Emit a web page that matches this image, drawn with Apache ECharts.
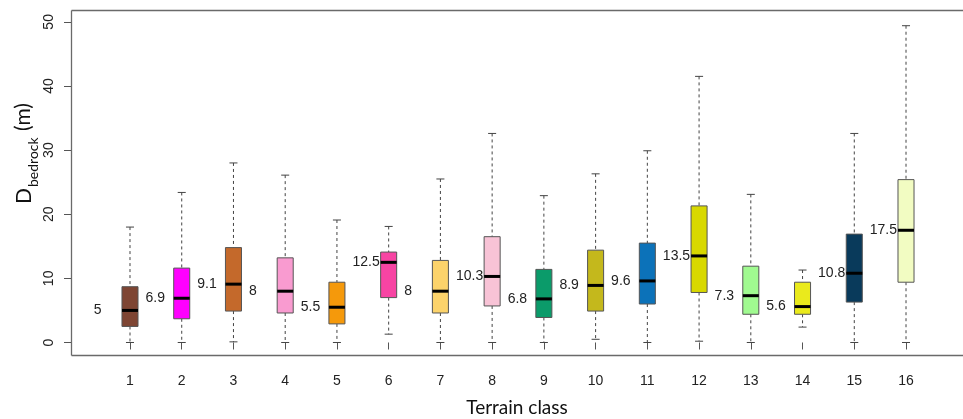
<!DOCTYPE html>
<html>
<head>
<meta charset="utf-8">
<script src="https://cdn.jsdelivr.net/npm/echarts@6/dist/echarts.min.js"></script>
<style>
html,body{margin:0;padding:0;background:#fff;overflow:hidden;}
#chart{width:963px;height:419px;}
</style>
</head>
<body>
<div id="chart"></div>
<script>
// ---- data ----
const classes = ['1','2','3','4','5','6','7','8','9','10','11','12','13','14','15','16'];
const whiskerLow  = [0, 0, 0.1, 0, 0, 1.3, 0, 0, 0, 0.5, 0, 0.2, 0, 2.4, 0, 0];
const q1          = [2.5, 3.7, 4.9, 4.6, 2.9, 7.0, 4.6, 5.7, 3.9, 4.9, 6.0, 7.8, 4.4, 4.4, 6.3, 9.4];
const medians     = [5, 6.9, 9.1, 8, 5.5, 12.5, 8, 10.3, 6.8, 8.9, 9.6, 13.5, 7.3, 5.6, 10.8, 17.5];
const q3          = [8.7, 11.6, 14.8, 13.2, 9.4, 14.1, 12.8, 16.5, 11.4, 14.4, 15.5, 21.3, 11.9, 9.4, 16.9, 25.4];
const whiskerHigh = [18.0, 23.4, 28.0, 26.1, 19.1, 18.1, 25.5, 32.6, 22.9, 26.3, 29.9, 41.5, 23.1, 11.3, 32.6, 49.4];
const medianLabels = ['5','6.9','9.1','8','5.5','12.5','8','10.3','6.8','8.9','9.6','13.5','7.3','5.6','10.8','17.5'];
const yTicks = [0, 10, 20, 30, 40, 50];
const boxColors = ['#7E4533','#FF00FF','#C4692B','#F99BD0','#F5990B','#F744A3','#FCD36B','#F8C3D6',
                   '#0B9B6A','#C4B81C','#0C72B9','#D8D800','#A0FA90','#EAEA1C','#093A5B','#F2FCC2'];

const chart = echarts.init(document.getElementById('chart'), null, {renderer:'canvas'});

const data = classes.map((c, i) => [i, whiskerLow[i], q1[i], medians[i], q3[i], whiskerHigh[i]]);

const tickFont = "'Liberation Sans', Arial, Helvetica, sans-serif";
const titleFont = "Lato, sans-serif";

function renderItem(params, api) {
  const i = api.value(0);
  const bw = api.size([1, 0])[0];
  const w = bw * 0.31;
  const cap = w * 0.5;
  const pLow = api.coord([i, api.value(1)]);
  const cx = pLow[0];
  const yLow = pLow[1];
  const yQ1 = api.coord([i, api.value(2)])[1];
  const yMed = api.coord([i, api.value(3)])[1];
  const yQ3 = api.coord([i, api.value(4)])[1];
  const yHigh = api.coord([i, api.value(5)])[1];
  const dashStyle = {stroke: '#444', lineWidth: 1, lineDash: [3, 3]};
  const capStyle = {stroke: '#444', lineWidth: 1};
  return {
    type: 'group',
    children: [
      {type: 'line', shape: {x1: cx, y1: yHigh, x2: cx, y2: yQ3}, style: dashStyle},
      {type: 'line', shape: {x1: cx, y1: yQ1, x2: cx, y2: yLow}, style: dashStyle},
      {type: 'line', shape: {x1: cx - cap / 2, y1: yHigh, x2: cx + cap / 2, y2: yHigh}, style: capStyle},
      {type: 'line', shape: {x1: cx - cap / 2, y1: yLow, x2: cx + cap / 2, y2: yLow}, style: capStyle},
      {type: 'rect', shape: {x: cx - w / 2, y: yQ3, width: w, height: yQ1 - yQ3},
        style: {fill: boxColors[params.dataIndex], stroke: '#555', lineWidth: 1}},
      {type: 'line', shape: {x1: cx - w / 2, y1: yMed, x2: cx + w / 2, y2: yMed},
        style: {stroke: '#000', lineWidth: 3}},
      {type: 'text', x: cx - bw * 0.7, y: yMed,
        style: {text: medianLabels[params.dataIndex], fill: '#222', fontSize: 14,
                fontFamily: tickFont, align: 'left', verticalAlign: 'middle'}}
    ]
  };
}

const band = 51.75;
const gridLeft = 130 - band / 2;
const gridRight = 963 - (906 + band / 2);
const frameStyle = {stroke: '#6a6a6a', lineWidth: 1.3};

const option = {
  animation: false,
  backgroundColor: '#fff',
  grid: [
    {left: gridLeft, right: gridRight, top: 10, bottom: 64, show: false}
  ],
  xAxis: [
    {type: 'category', gridIndex: 0, data: classes, boundaryGap: true,
     axisLine: {show: false},
     axisTick: {show: true, alignWithLabel: true, length: 7, lineStyle: {color: '#555', width: 1}},
     axisLabel: {fontSize: 14, color: '#222', fontFamily: tickFont, margin: 19},
     splitLine: {show: false}}
  ],
  yAxis: [
    {type: 'value', gridIndex: 0, min: -1.95, max: 51.85, offset: gridLeft - 71,
     axisLine: {show: false},
     axisTick: {show: true, length: 7, customValues: yTicks, lineStyle: {color: '#555', width: 1}},
     axisLabel: {show: true, customValues: yTicks, rotate: 90, fontSize: 14, color: '#222',
                 fontFamily: tickFont, margin: 15},
     splitLine: {show: false}}
  ],
  graphic: [
    // plot frame: top, left and bottom sides only
    {type: 'line', silent: true, shape: {x1: 71.5, y1: 10.5, x2: 963, y2: 10.5}, style: frameStyle},
    {type: 'line', silent: true, shape: {x1: 71.5, y1: 10.5, x2: 71.5, y2: 355.5}, style: frameStyle},
    {type: 'line', silent: true, shape: {x1: 71.5, y1: 355.5, x2: 963, y2: 355.5}, style: frameStyle},
    {type: 'text', x: 517, y: 408,
     style: {text: 'Terrain class', fontSize: 19, fontFamily: titleFont, fill: '#111', align: 'center', verticalAlign: 'middle'}},
    {type: 'group', x: 24.5, y: 204, rotation: Math.PI / 2, children: [
      {type: 'text', x: 0, y: 0, style: {text: 'D', fontSize: 21, fontFamily: titleFont, fill: '#111', align: 'left', verticalAlign: 'middle'}},
      {type: 'text', x: 17, y: 9, style: {text: 'bedrock', fontSize: 14, fontFamily: titleFont, fill: '#111', align: 'left', verticalAlign: 'middle'}},
      {type: 'text', x: 73, y: -1, style: {text: '(m)', fontSize: 21, fontFamily: titleFont, fill: '#111', align: 'left', verticalAlign: 'middle'}}
    ]}
  ],
  series: [
    {type: 'custom', xAxisIndex: 0, yAxisIndex: 0, renderItem: renderItem,
     encode: {x: 0, y: [1, 2, 3, 4, 5]}, data: data, clip: false}
  ]
};
chart.setOption(option);
</script>
</body>
</html>
